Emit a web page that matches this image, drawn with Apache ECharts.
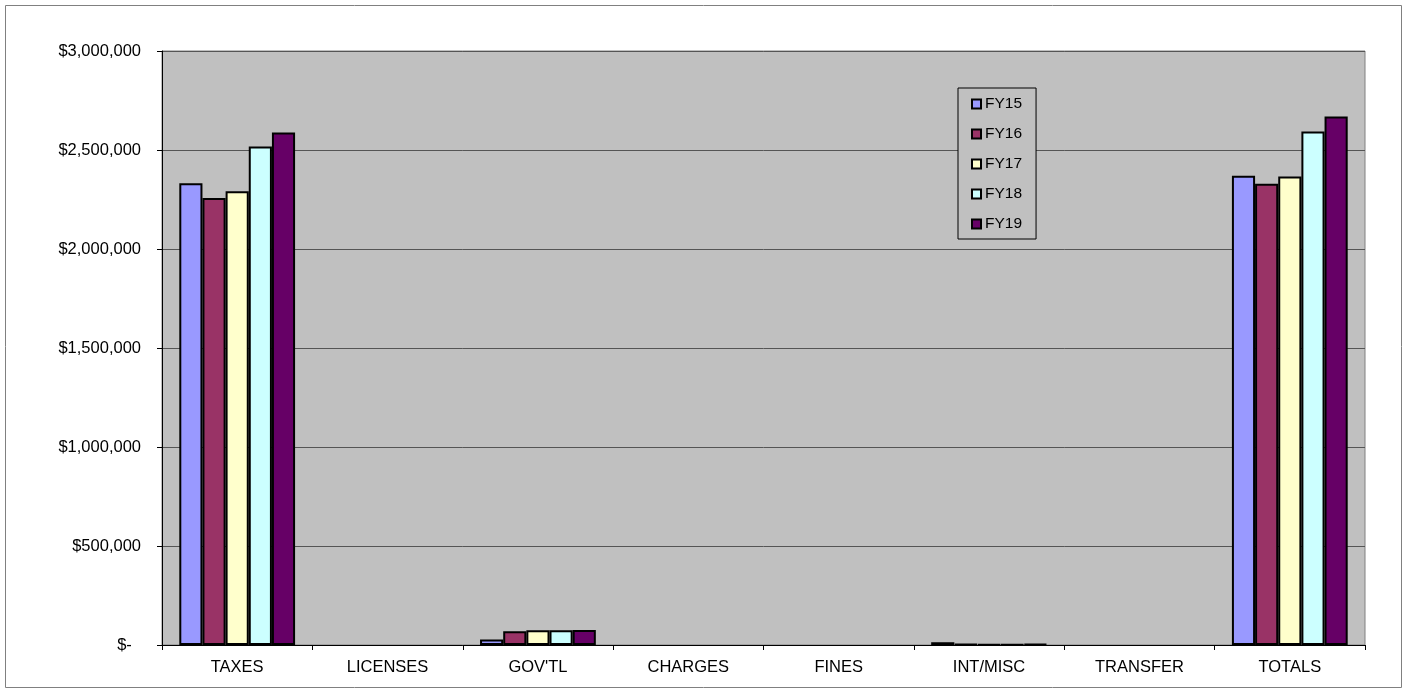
<!DOCTYPE html>
<html>
<head>
<meta charset="utf-8">
<script src="https://cdn.jsdelivr.net/npm/echarts@6/dist/echarts.min.js"></script>
<style>
  html, body { margin: 0; padding: 0; background: #ffffff; }
  #chart { width: 1408px; height: 693px; }
</style>
</head>
<body>
<div id="chart"></div>
<script>
// Revenue by source, five fiscal years
const categories = ['TAXES', 'LICENSES', "GOV'TL", 'CHARGES', 'FINES', 'INT/MISC', 'TRANSFER', 'TOTALS'];
const fy15 = [2332000, 0, 28000, 0, 0, 14000, 0, 2370000];
const fy16 = [2257000, 0, 70000, 0, 0, 4000, 0, 2330000];
const fy17 = [2292000, 0, 74000, 0, 0, 3000, 0, 2366000];
const fy18 = [2518000, 0, 74000, 0, 0, 2000, 0, 2594000];
const fy19 = [2588000, 0, 76000, 0, 0, 5000, 0, 2669000];
const seriesNames = ['FY15', 'FY16', 'FY17', 'FY18', 'FY19'];
const seriesColors = ['#9999FF', '#993366', '#FFFFCC', '#CCFFFF', '#660066'];
const seriesValues = [fy15, fy16, fy17, fy18, fy19];

const font = '"Liberation Sans", Arial, sans-serif';

function money(v) {
  if (v === 0) return '$-  ';
  return '$' + v.toLocaleString('en-US');
}

// zero-height bars get no outline so nothing sits on the axis
function barData(values) {
  return values.map(v => v === 0 ? { value: 0, itemStyle: { borderWidth: 0 } } : v);
}

const chart = echarts.init(document.getElementById('chart'), null, { renderer: 'canvas' });

chart.setOption({
  backgroundColor: '#ffffff',
  animation: false,
  graphic: [{
    type: 'rect',
    shape: { x: 5.5, y: 5.5, width: 1396, height: 682 },
    style: { fill: 'none', stroke: '#808080', lineWidth: 1 },
    silent: true,
    z: -1
  }],
  grid: {
    left: 162, right: 43, top: 51, bottom: 48,
    show: true,
    backgroundColor: '#C0C0C0',
    borderColor: '#808080',
    borderWidth: 1
  },
  legend: {
    orient: 'vertical',
    left: 958,
    top: 88,
    data: seriesNames,
    icon: 'rect',
    itemWidth: 9,
    itemHeight: 9,
    itemGap: 14,
    padding: [8, 14, 7, 13],
    backgroundColor: '#C0C0C0',
    borderColor: '#000000',
    borderWidth: 1,
    textStyle: { fontFamily: font, fontSize: 15.5, lineHeight: 16, color: '#000000', padding: [0, 0, 0, -1] }
  },
  xAxis: {
    type: 'category',
    data: categories,
    axisLine: { lineStyle: { color: '#000000', width: 1 } },
    axisTick: { show: true, length: 5, lineStyle: { color: '#000000' } },
    axisLabel: { fontFamily: font, fontSize: 16.5, color: '#000000', margin: 14 },
    splitLine: { show: false }
  },
  yAxis: {
    type: 'value',
    min: 0,
    max: 3000000,
    interval: 500000,
    axisLine: { show: true, lineStyle: { color: '#000000', width: 1 } },
    axisTick: { show: true, length: 5, lineStyle: { color: '#000000' } },
    axisLabel: { fontFamily: font, fontSize: 16.5, color: '#000000', margin: 21, formatter: money },
    splitLine: { show: true, lineStyle: { color: '#555555', width: 1 } }
  },
  series: seriesNames.map((name, i) => ({
    name: name,
    type: 'bar',
    data: barData(seriesValues[i]),
    barGap: '0%',
    barCategoryGap: '23%',
    itemStyle: { color: seriesColors[i], borderColor: '#000000', borderWidth: 2 }
  }))
});
</script>
</body>
</html>
